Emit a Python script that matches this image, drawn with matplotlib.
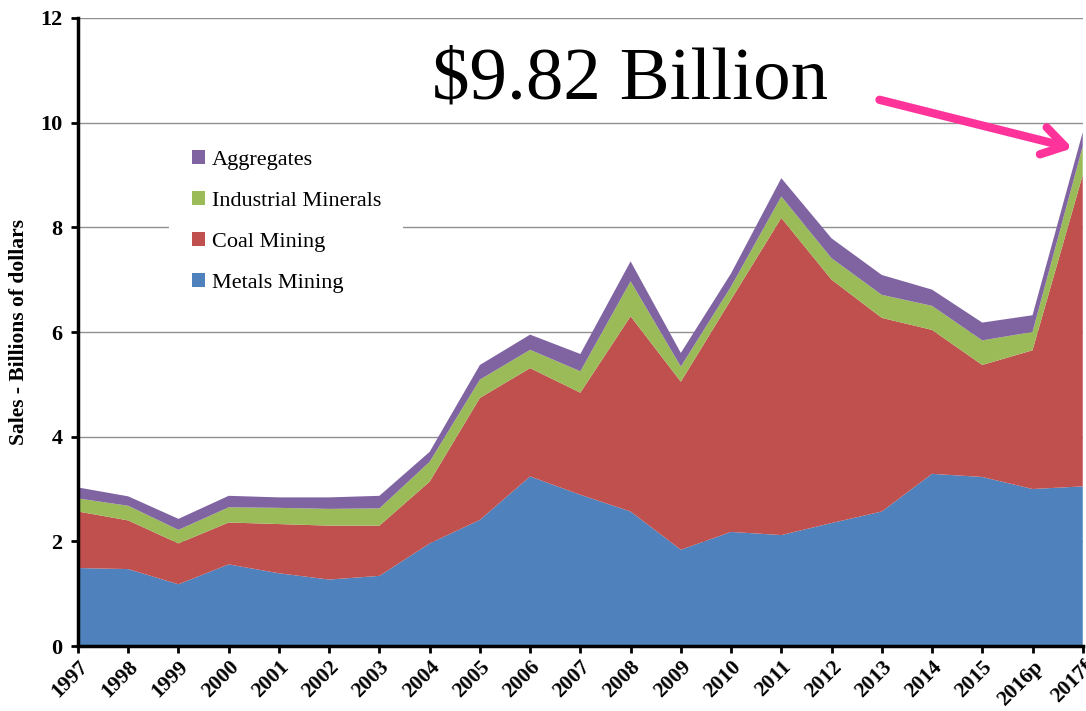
import matplotlib.pyplot as plt
import numpy as np

years = ['1997', '1998', '1999', '2000', '2001', '2002', '2003', '2004', '2005',
         '2006', '2007', '2008', '2009', '2010', '2011', '2012', '2013', '2014',
         '2015', '2016p', '2017f']

# cumulative tops (billions of dollars)
top_metals = [1.49, 1.47, 1.18, 1.56, 1.39, 1.27, 1.34, 1.96, 2.41, 3.24, 2.89,
              2.57, 1.84, 2.18, 2.12, 2.35, 2.57, 3.29, 3.23, 3.00, 3.05]
top_coal = [2.57, 2.40, 1.96, 2.36, 2.33, 2.30, 2.30, 3.14, 4.74, 5.31, 4.84,
            6.30, 5.05, 6.62, 8.18, 7.00, 6.27, 6.04, 5.37, 5.65, 9.00]
top_ind = [2.82, 2.68, 2.22, 2.65, 2.64, 2.62, 2.63, 3.52, 5.09, 5.66, 5.25,
           6.97, 5.34, 6.87, 8.59, 7.41, 6.71, 6.50, 5.84, 6.00, 9.55]
top_agg = [3.03, 2.86, 2.43, 2.87, 2.84, 2.84, 2.87, 3.71, 5.37, 5.95, 5.58,
           7.35, 5.60, 7.12, 8.94, 7.79, 7.09, 6.81, 6.18, 6.32, 9.82]

metals = np.array(top_metals)
coal = np.array(top_coal) - np.array(top_metals)
ind = np.array(top_ind) - np.array(top_coal)
agg = np.array(top_agg) - np.array(top_ind)

plt.rcParams['font.family'] = 'Liberation Serif'

fig = plt.figure(figsize=(10.86, 7.11), dpi=100)
ax = fig.add_axes([0.0718, 0.0914, 0.9252, 0.8833])

x = np.arange(len(years))
ax.stackplot(x, metals, coal, ind, agg,
             colors=['#4F81BD', '#C0504D', '#9BBB59', '#8064A2'],
             labels=['Metals Mining', 'Coal Mining', 'Industrial Minerals', 'Aggregates'],
             zorder=2)

ax.set_xlim(0, len(years) - 1)
ax.set_ylim(0, 12)
ax.set_yticks(range(0, 13, 2))
ax.set_xticks(x)
ax.set_xticklabels(years, rotation=45, ha='right', rotation_mode='anchor',
                   fontsize=15.5, fontweight='bold')
for lab in ax.get_yticklabels():
    lab.set_fontsize(16)
    lab.set_fontweight('bold')
ax.yaxis.grid(True, color='#909090', linewidth=1)
ax.set_axisbelow(True)
ax.spines['top'].set_visible(False)
ax.spines['right'].set_visible(False)
ax.spines['left'].set_linewidth(2.5)
ax.spines['bottom'].set_linewidth(2.5)
ax.tick_params(axis='both', direction='out', width=2, length=5)
ax.tick_params(axis='x', pad=3)
ax.tick_params(axis='y', pad=6)
ax.set_ylabel('Sales - Billions of dollars', fontsize=15.5, fontweight='bold', labelpad=8)

handles, labels = ax.get_legend_handles_labels()
leg = ax.legend(handles[::-1], labels[::-1], loc='upper left',
                bbox_to_anchor=(0.08, 0.843), fontsize=16, frameon=True,
                facecolor='white', edgecolor='none', framealpha=1,
                handlelength=0.6, handleheight=0.6, handletextpad=0.3,
                labelspacing=0.95, borderpad=1.0, fancybox=False)
leg.set_zorder(3)

ax.text(0.352, 0.90, '$9.82 Billion', transform=ax.transAxes, fontsize=54,
        ha='left', va='center')
ax.annotate('', xy=(19.85, 9.5), xytext=(15.9, 10.45),
            arrowprops=dict(arrowstyle='->,head_length=1.6,head_width=1.0',
                            color='#FF3399', lw=6, capstyle='round'))

fig.savefig('out.png', dpi=100)
